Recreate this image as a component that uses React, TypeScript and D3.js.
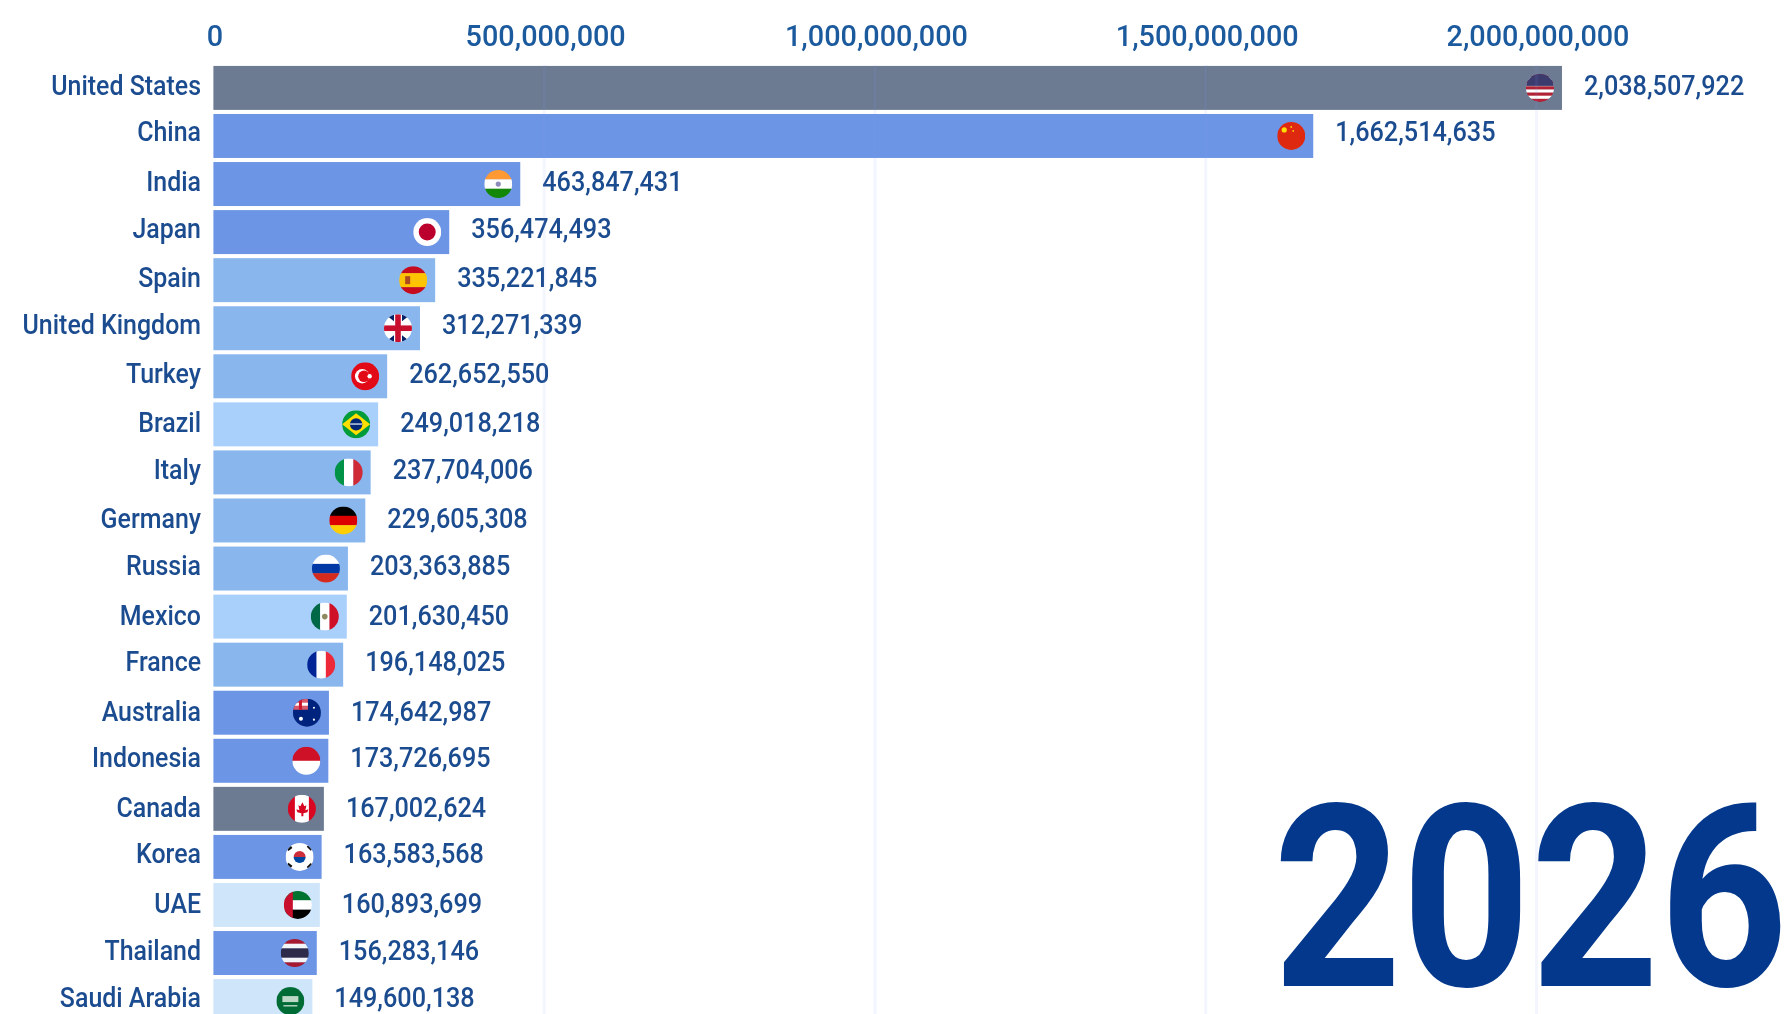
import React from "react";
import * as d3 from "d3";

const countries = ["United States","China","India","Japan","Spain","United Kingdom","Turkey","Brazil","Italy","Germany","Russia","Mexico","France","Australia","Indonesia","Canada","Korea","UAE","Thailand","Saudi Arabia"];
const values = [2038507922,1662514635,463847431,356474493,335221845,312271339,262652550,249018218,237704006,229605308,203363885,201630450,196148025,174642987,173726695,167002624,163583568,160893699,156283146,149600138];
const regions = ["na","asia","asia","asia","eu","eu","eu","sa","eu","eu","eu","sa","eu","asia","asia","na","asia","me","asia","me"];
const tickValues = [0,500000000,1000000000,1500000000,2000000000];
const yearLabel = "2026";

const regionColor: Record<string,string> = { na:"#6c7a92", asia:"#6d95e5", eu:"#8ab6ee", sa:"#a9d0fb", me:"#cfe5f9" };

const W = 1787, H = 1014;
const x = d3.scaleLinear().domain([0,2000000000]).range([213.4,1536.5]);
const y = d3.scaleBand<number>().domain(d3.range(20)).range([64,64+48.05*20]).paddingInner(0.085).paddingOuter(0.04);
const fmt = d3.format(",");
const R = 14;

const Stripes = ({c, v=false}:{c:string[],v?:boolean}) => <>{c.map((col,i)=>{
  const s = 2*R/c.length;
  return v ? <rect key={i} x={-R+i*s} y={-R} width={s+.3} height={2*R} fill={col}/> : <rect key={i} x={-R} y={-R+i*s} width={2*R} height={s+.3} fill={col}/>;
})}</>;

function Flag({name}:{name:string}) {
  switch(name){
    case "United States": return <><Stripes c={["#b22234","#fff","#b22234","#fff","#b22234","#fff","#b22234","#fff","#b22234"]}/><rect x={-R} y={-R} width={28} height={12} fill="#3c3b6e"/></>;
    case "China": return <><Stripes c={["#de2910"]}/><circle cx={-7} cy={-6} r={2.6} fill="#ffde00"/><circle cx={0} cy={-9} r={.9} fill="#ffde00"/><circle cx={2} cy={-5} r={.9} fill="#ffde00"/></>;
    case "India": return <><Stripes c={["#ff9933","#fff","#138808"]}/><circle r={2.6} fill="#8d8dbb"/></>;
    case "Japan": return <><Stripes c={["#fff"]}/><circle r={8.5} fill="#bc002d"/></>;
    case "Spain": return <><Stripes c={["#c60b1e","#ffc400","#ffc400","#c60b1e"]}/><rect x={-8} y={-4} width={5} height={8} fill="#ad4a20"/></>;
    case "United Kingdom": return <><Stripes c={["#fff"]}/><path d="M-13-14l9 7v-7zM13-14l-9 7v-7zM-13 14l9-7v7zM13 14l-9-7v7z" fill="#012169"/><rect x={-2.8} y={-14} width={5.6} height={28} fill="#c8102e"/><rect x={-14} y={-2.8} width={28} height={5.6} fill="#c8102e"/></>;
    case "Turkey": return <><Stripes c={["#e30a17"]}/><circle cx={-3} r={7.2} fill="#fff"/><circle cx={-1.2} r={5.8} fill="#e30a17"/><circle cx={4.5} r={2.2} fill="#fff"/></>;
    case "Brazil": return <><Stripes c={["#009c3b"]}/><path d="M-14 0L0-11 14 0 0 11z" fill="#ffdf00"/><circle r={6.2} fill="#002776"/><rect x={-6} y={-1} width={12} height={1.4} fill="#cdd6e6"/></>;
    case "Italy": return <Stripes v c={["#009246","#fff","#ce2b37"]}/>;
    case "Germany": return <Stripes c={["#000","#dd0000","#ffce00"]}/>;
    case "Russia": return <Stripes c={["#fff","#0039a6","#d52b1e"]}/>;
    case "Mexico": return <><Stripes v c={["#006847","#fff","#ce1126"]}/><circle r={2.8} fill="#8c8a5e"/></>;
    case "France": return <Stripes v c={["#002395","#fff","#ed2939"]}/>;
    case "Australia": return <><Stripes c={["#00247d"]}/><rect x={-14} y={-14} width={15} height={11} fill="#d85a6a"/><rect x={-14} y={-10} width={15} height={3} fill="#fff"/><rect x={-8} y={-14} width={3} height={11} fill="#cf142b"/><circle cx={-6} cy={6} r={2} fill="#fff"/><circle cx={7} cy={-5} r={1} fill="#fff"/><circle cx={7} cy={7} r={1.1} fill="#fff"/></>;
    case "Indonesia": return <Stripes c={["#ce1126","#fff"]}/>;
    case "Canada": return <><Stripes v c={["#d80621","#fff","#fff","#d80621"]}/><path d="M0-7l2 4 2-1-1 5 3-1-1 3-4 1v3h-2v-3l-4-1-1-3 3 1-1-5 2 1z" fill="#d80621" transform="translate(.5,.5)"/></>;
    case "Korea": return <><Stripes c={["#fff"]}/><path d="M-6 0a6 6 0 0 1 12 0z" fill="#cd2e3a"/><path d="M-6 0a6 6 0 0 0 12 0z" fill="#0047a0"/><path d="M-12-7l4-3M8-11l4 4M-12 7l4 3M8 11l4-4" stroke="#111" strokeWidth={2.6}/></>;
    case "UAE": return <><Stripes c={["#00732f","#fff","#000"]}/><rect x={-14} y={-14} width={9} height={28} fill="#c8102e"/></>;
    case "Thailand": return <Stripes c={["#a51931","#f4f5f8","#2d2a4a","#2d2a4a","#f4f5f8","#a51931"]}/>;
    case "Saudi Arabia": return <><Stripes c={["#006c35"]}/><rect x={-8} y={-5} width={16} height={6} fill="#bcd8c6"/><rect x={-7} y={4} width={14} height={1.4} fill="#bcd8c6"/></>;
    default: return null;
  }
}

const font = "Roboto, sans-serif";
const textNudge = (i:number) => i===19 ? 6.3 : i%2===0 ? (i===0?7.5:6.5) : (i<7 ? 5.5 : 8);

export default function App(){
  const bw = y.bandwidth();
  return (
    <svg width={W} height={H} viewBox={`0 0 ${W} ${H}`} style={{position:"fixed",left:0,top:0,background:"#fff",filter:"blur(0.7px)"}}>
      <defs><clipPath id="flag"><circle r={R}/></clipPath></defs>
      {countries.map((c,i)=>{
        const end = x(values[i]);
        const cy = y(i)! + bw/2;
        const dy = textNudge(i);
        return <g key={c}>
          <rect x={x(0)} y={y(i)} width={end-x(0)} height={bw} fill={regionColor[regions[i]]}/>
          <g transform={`translate(${end-22},${cy})`} clipPath="url(#flag)"><Flag name={c}/></g>
          <text transform={`translate(201,${cy+dy}) scale(0.875,1)`} textAnchor="end" fontFamily={font} fontWeight={500} fontSize={28.5} fill="#1c4c90">{c}</text>
          <text transform={`translate(${end+22},${cy+dy}) scale(0.885,1)`} fontFamily={font} fontWeight={500} fontSize={28.5} fill="#1c4c90">{fmt(values[i])}</text>
        </g>;
      })}
      {tickValues.map(t=><g key={t}>
        {t>0 && <line x1={x(t)} x2={x(t)} y1={65} y2={H} stroke="#7a9cf0" strokeOpacity={0.09} strokeWidth={3}/>}
        <text transform={`translate(${x(t)+1.5},46) scale(0.96,1)`} textAnchor="middle" fontFamily={font} fontWeight={500} fontSize={30} fill="#1c5a9e">{fmt(t)}</text>
      </g>)}
      <text transform="translate(1788,986) scale(0.88,1)" textAnchor="end" fontFamily={font} fontWeight={700} fontSize={255} fill="#03388c">{yearLabel}</text>
    </svg>
  );
}
